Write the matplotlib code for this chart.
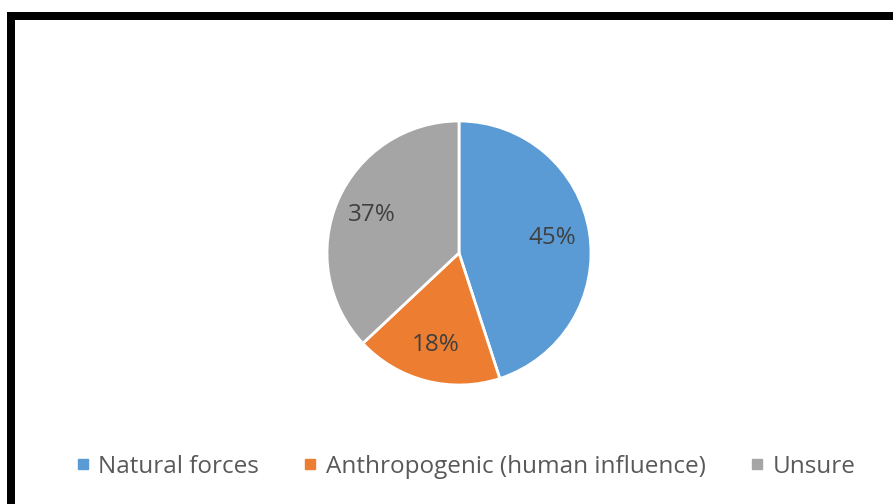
import matplotlib
matplotlib.use("Agg")
import matplotlib.pyplot as plt
from matplotlib.patches import Rectangle
from matplotlib.lines import Line2D

labels = ["Natural forces", "Anthropogenic (human influence)", "Unsure"]
shares = [45, 18, 37]
colors = ["#5B9BD5", "#ED7D31", "#A5A5A5"]

plt.rcParams["font.family"] = ["Open Sans", "DejaVu Sans"]

W, H = 893, 504
fig = plt.figure(figsize=(W / 100, H / 100), dpi=100)

# thick black frame, right and bottom edges fall outside the picture
fig.patches.append(Rectangle((11 / W, -0.2), 1.3, 1 - 16 / H + 0.2,
                             transform=fig.transFigure, fill=False,
                             edgecolor="black", linewidth=8 * 0.72))

# pie axes: centre (459, 253), radius 132 px
cx, cy, r = 459, 253, 132
ax = fig.add_axes([(cx - r) / W, (H - cy - r) / H, 2 * r / W, 2 * r / H])
wedges, texts, autotexts = ax.pie(
    shares, colors=colors, startangle=90, counterclock=False,
    autopct="%d%%", pctdistance=0.72,
    wedgeprops=dict(edgecolor="white", linewidth=2),
    textprops=dict(color="#404040", fontsize=17.5))
ax.set_xlim(-1, 1)
ax.set_ylim(-1, 1)

handles = [Line2D([], [], marker="s", linestyle="none", markersize=7,
                  markerfacecolor=c, markeredgecolor=c) for c in colors]
fig.legend(handles, labels, loc="center", bbox_to_anchor=(0.522, 1 - 467 / H),
           ncol=3, frameon=False, fontsize=17.5, labelcolor="#595959",
           handletextpad=0.4, columnspacing=1.9, handlelength=0.45)

fig.savefig("out.png", dpi=100)
